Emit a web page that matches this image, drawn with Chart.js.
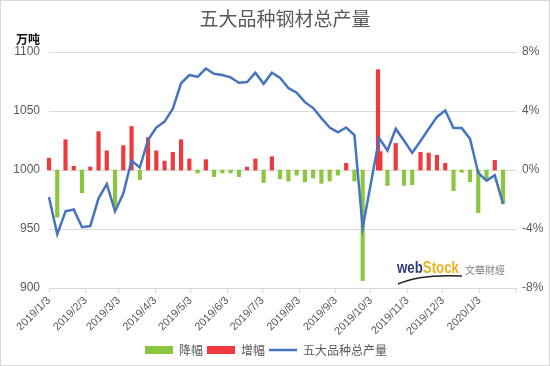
<!DOCTYPE html>
<html>
<head>
<meta charset="utf-8">
<script src="https://cdn.jsdelivr.net/npm/chart.js@4.4.1/dist/chart.umd.min.js"></script>
<style>
  body { margin: 0; background: #fff; }
</style>
</head>
<body>
<canvas id="steelChart" width="550" height="366"></canvas>
<script>
// weekly dates of the output line (10/3 has no data: National Day)
const weeks = [
    '2019/1/3', '2019/1/10', '2019/1/17', '2019/1/24', '2019/1/31',
    '2019/2/7', '2019/2/14', '2019/2/21', '2019/2/28',
    '2019/3/7', '2019/3/14', '2019/3/21', '2019/3/28',
    '2019/4/4', '2019/4/11', '2019/4/18', '2019/4/25',
    '2019/5/2', '2019/5/9', '2019/5/16', '2019/5/23', '2019/5/30',
    '2019/6/6', '2019/6/13', '2019/6/20', '2019/6/27',
    '2019/7/4', '2019/7/11', '2019/7/18', '2019/7/25',
    '2019/8/1', '2019/8/8', '2019/8/15', '2019/8/22', '2019/8/29',
    '2019/9/5', '2019/9/12', '2019/9/19', '2019/9/26',
    '2019/10/10', '2019/10/17', '2019/10/24', '2019/10/31',
    '2019/11/7', '2019/11/14', '2019/11/21', '2019/11/28',
    '2019/12/5', '2019/12/12', '2019/12/19', '2019/12/26',
    '2020/1/2', '2020/1/9', '2020/1/16', '2020/1/23',
];

// 五大品种总产量, 万吨
const output = [
    977, 945.5, 965, 966.5, 951.5,
    952.5, 976, 988, 965,
    980, 1008, 1002, 1025.5,
    1036, 1041, 1052, 1073.5,
    1080.5, 1079, 1086, 1081.5, 1080.5,
    1078.5, 1074, 1074.5, 1082.5,
    1073, 1082.5, 1078, 1069.5,
    1065.5, 1057.5, 1052.5, 1044, 1036,
    1032, 1036, 1029.5, 951,
    1027, 1016.5, 1035, 1025,
    1014.5, 1024.5, 1035, 1045,
    1050.5, 1035.5, 1035.5, 1026.5,
    997.5, 991, 995.5, 971.5,
];

// dates of the change bars
const changeDates = [
    '2019/1/3', '2019/1/10', '2019/1/17', '2019/1/24', '2019/1/31',
    '2019/2/7', '2019/2/14', '2019/2/21', '2019/2/28',
    '2019/3/7', '2019/3/14', '2019/3/21', '2019/3/28',
    '2019/4/4', '2019/4/11', '2019/4/18', '2019/4/25',
    '2019/5/2', '2019/5/9', '2019/5/16', '2019/5/23', '2019/5/30',
    '2019/6/6', '2019/6/13', '2019/6/20', '2019/6/27',
    '2019/7/4', '2019/7/11', '2019/7/18', '2019/7/25',
    '2019/8/1', '2019/8/8', '2019/8/15', '2019/8/22', '2019/8/29',
    '2019/9/5', '2019/9/12', '2019/9/19', '2019/9/26',
    '2019/10/9', '2019/10/11', '2019/10/17', '2019/10/24', '2019/10/31',
    '2019/11/7', '2019/11/14', '2019/11/21', '2019/11/28',
    '2019/12/5', '2019/12/12', '2019/12/19', '2019/12/26',
    '2020/1/2', '2020/1/9', '2020/1/16', '2020/1/23',
];

// week-on-week change, %
const changes = [
    0.8, -3.2, 2.05, 0.25, -1.55,
    0.2, 2.6, 1.3, -2.45,
    1.65, 2.95, -0.65, 2.2,
    1.3, 0.6, 1.2, 2.05,
    0.75, -0.2, 0.7, -0.45, -0.2,
    -0.2, -0.45, 0.2, 0.75,
    -0.85, 0.9, -0.6, -0.75,
    -0.35, -0.8, -0.55, -0.9, -0.75,
    -0.35, 0.45, -0.75, -7.5,
    6.8, 1.25, -1.05, 1.8, -1.05,
    -1.0, 1.2, 1.15, 1.0,
    0.45, -1.4, -0.15, -0.8,
    -2.9, -0.65, 0.65, -2.3,
];

// month ticks on the date axis (last one has no label)
const monthTicks = [
    '2019/1/3', '2019/2/3', '2019/3/3', '2019/4/3', '2019/5/3', '2019/6/3', '2019/7/3',
    '2019/8/3', '2019/9/3', '2019/10/3', '2019/11/3', '2019/12/3', '2020/1/3', '2020/2/3',
];

const dayIndex = (s) => {
    const [y, m, d] = s.split('/').map(Number);
    return Math.round((Date.UTC(y, m - 1, d) - Date.UTC(2019, 0, 3)) / 86400000);
};

const tickValues = monthTicks.map(dayIndex);
const labelFor = {};
monthTicks.forEach((t, i) => { labelFor[tickValues[i]] = i < monthTicks.length - 1 ? t : ''; });

const linePoints = weeks.map((w, i) => ({ x: dayIndex(w), y: output[i] }));
const downBars = [];
const upBars = [];
changeDates.forEach((d, i) => {
    const pt = { x: dayIndex(d), y: changes[i] };
    if (changes[i] < 0) downBars.push(pt); else upBars.push(pt);
});

const GREY = '#595959';
const CJK = '"Noto Sans CJK SC", "Noto Sans", sans-serif';

// title, unit label, watermark and frame
const decor = {
    id: 'decor',
    afterLayout(chart) {
        // legend sits a bit left of centre in the original
        chart.legend.right -= 18;
    },
    beforeDraw(chart) {
        const ctx = chart.ctx;
        ctx.save();
        ctx.fillStyle = '#fff';
        ctx.fillRect(0, 0, chart.width, chart.height);
        ctx.restore();
    },
    afterDraw(chart) {
        const ctx = chart.ctx;
        ctx.save();
        ctx.fillStyle = GREY;
        ctx.font = '19px ' + CJK;
        ctx.textAlign = 'center';
        ctx.textBaseline = 'middle';
        ctx.fillText('五大品种钢材总产量', 285, 19);

        ctx.fillStyle = '#111';
        ctx.font = 'bold 12px ' + CJK;
        ctx.textAlign = 'left';
        ctx.fillText('万吨', 16, 39);

        // webstock logo
        ctx.font = 'bold 16px "Liberation Sans", sans-serif';
        ctx.textBaseline = 'alphabetic';
        const w1 = ctx.measureText('web').width;
        const w2 = ctx.measureText('Stock').width;
        const k = 62 / (w1 + w2);
        ctx.save();
        ctx.translate(397, 273);
        ctx.scale(k, 1);
        ctx.fillStyle = '#2d3c78';
        ctx.fillText('web', 0, 0);
        ctx.fillStyle = '#f0b020';
        ctx.fillText('Stock', w1, 0);
        ctx.restore();
        ctx.fillStyle = '#808080';
        ctx.font = '10px "Noto Sans CJK TC", sans-serif';
        ctx.textBaseline = 'middle';
        ctx.fillText('文華財經', 465, 270);
        ctx.strokeStyle = '#222';
        ctx.lineWidth = 1.5;
        ctx.beginPath();
        ctx.moveTo(398, 284);
        ctx.quadraticCurveTo(420, 274, 462, 276);
        ctx.stroke();

        ctx.strokeStyle = '#d9d9d9';
        ctx.lineWidth = 1;
        ctx.strokeRect(0.5, 0.5, chart.width - 1, chart.height - 1);
        ctx.restore();
    },
};

new Chart(document.getElementById('steelChart'), {
    type: 'bar',
    data: {
        datasets: [
            {
                type: 'bar',
                label: '降幅',
                data: downBars,
                yAxisID: 'y2',
                backgroundColor: '#8cc63f',
                barThickness: 3.5,
                grouped: false,
                pointStyle: 'rect',
                clip: 5,
                order: 1,
            },
            {
                type: 'bar',
                label: '增幅',
                data: upBars,
                yAxisID: 'y2',
                backgroundColor: '#f0393c',
                barThickness: 3.5,
                grouped: false,
                pointStyle: 'rect',
                clip: 5,
                order: 1,
            },
            {
                type: 'line',
                label: '五大品种总产量',
                data: linePoints,
                yAxisID: 'y',
                borderColor: '#4674c1',
                backgroundColor: '#4674c1',
                borderWidth: 2.5,
                pointRadius: 0,
                tension: 0,
                pointStyle: 'line',
                clip: 5,
                order: 0,
            },
        ],
    },
    options: {
        responsive: false,
        animation: false,
        devicePixelRatio: 1,
        layout: { padding: { top: 52, left: 0, right: 0, bottom: 0 } },
        plugins: {
            legend: {
                position: 'bottom',
                labels: {
                    usePointStyle: true,
                    pointStyleWidth: 28,
                    boxHeight: 8,
                    padding: 4,
                    color: GREY,
                    font: { size: 12, family: CJK },
                    sort: (a, b) => a.datasetIndex - b.datasetIndex,
                },
            },
            tooltip: { enabled: false },
        },
        scales: {
            x: {
                type: 'linear',
                offset: false,
                min: tickValues[0],
                max: tickValues[tickValues.length - 1],
                afterBuildTicks: (scale) => {
                    scale.ticks = tickValues.map((v) => ({ value: v }));
                },
                afterFit: (scale) => { scale.height = 52; },
                ticks: {
                    autoSkip: false,
                    minRotation: 45,
                    maxRotation: 45,
                    padding: 1,
                    color: GREY,
                    font: { size: 11, family: '"Liberation Sans", sans-serif' },
                    callback: (v) => labelFor[v] ?? '',
                },
                grid: { offset: false, drawOnChartArea: false, drawTicks: true, tickLength: 5, color: '#d9d9d9' },
                border: { color: '#d9d9d9' },
            },
            y: {
                position: 'left',
                min: 900,
                max: 1100,
                afterFit: (scale) => { scale.width = 49; },
                ticks: {
                    stepSize: 50,
                    padding: 9,
                    color: GREY,
                    font: { size: 12, family: '"Liberation Sans", sans-serif' },
                    callback: (v) => String(v),
                },
                grid: { color: '#d9d9d9', drawTicks: false },
                border: { display: false },
            },
            y2: {
                position: 'right',
                min: -8,
                max: 8,
                afterFit: (scale) => { scale.width = 34; },
                ticks: {
                    stepSize: 4,
                    padding: 6,
                    color: GREY,
                    font: { size: 12, family: '"Liberation Sans", sans-serif' },
                    callback: (v) => v + '%',
                },
                grid: { display: false, drawTicks: false },
                border: { display: false },
            },
        },
    },
    plugins: [decor],
});
</script>
</body>
</html>
